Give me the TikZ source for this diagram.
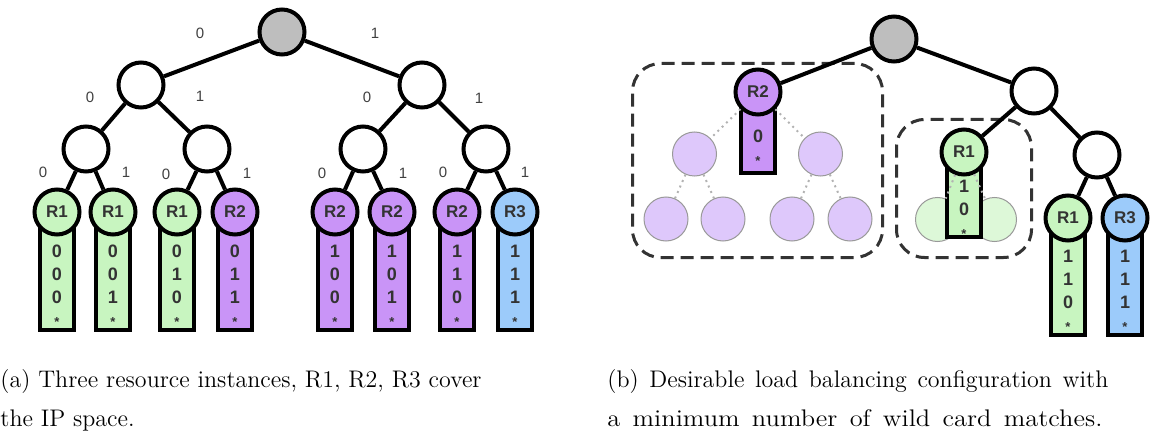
\documentclass[tikz,border=0pt]{standalone}
\usepackage{fontspec}
\newfontfamily\sansf{Liberation Sans}
\definecolor{rgreen}{HTML}{C8F5C0}
\definecolor{rpurple}{HTML}{C994F7}
\definecolor{rblue}{HTML}{9CCBFA}
\definecolor{rgrey}{HTML}{BEBEBE}
\definecolor{gpurple}{HTML}{DEC8FB}
\definecolor{ggreen}{HTML}{DDF8D8}
\tikzset{
  inner/.style={circle, draw=black, line width=2pt, minimum size=22.5pt, inner sep=0pt, fill=white},
  res/.style={inner, font=\sansf\bfseries\fontsize{8.5}{10}\selectfont, text=black!80},
  bar/.style={rectangle, draw=black, line width=2pt, minimum width=17pt, inner sep=0pt},
  bits/.style={font=\sansf\bfseries\fontsize{9}{11.5}\selectfont, align=center, inner sep=0pt, anchor=north, text=black!80},
  edge/.style={line width=2pt},
  elab/.style={font=\sansf\fontsize{7.5}{8}\selectfont, text=black!75, inner sep=0pt},
  ghost/.style={circle, draw=black!40, line width=0.5pt, minimum size=22pt, inner sep=0pt},
  ghostedge/.style={draw=black!30, dotted, line width=1pt},
  group/.style={draw=black!80, line width=1.5pt, dash pattern=on 6.5pt off 3.5pt, rounded corners=14pt, inner sep=0pt},
  captext/.style={font=\fontsize{12}{14}\selectfont, inner sep=0pt, anchor=base west},
}
\newcommand\st{{\fontsize{6.5}{11.5}\selectfont *}}
% name, x, y, fill, label, bar bottom, bits, bits top
\newcommand\leafnode[8]{%
  \node[bar, fill=#4, minimum height={(#6-#3-2)*0.5pt}, anchor=north] (#1bar) at (#2,#3) {};
  \node[res, fill=#4] (#1) at (#2,#3) {#5};
  \node[bits] (#1bits) at (#2,#8) {#7};
}
\begin{document}
\begin{tikzpicture}[x=0.5pt,y=-0.5pt]
\useasboundingbox (0,0) rectangle (1162,444);
% ---------------- (a) ----------------
\node[inner, fill=rgrey] (ar) at (282,32) {};
\node[inner] (a0) at (141,85) {};
\node[inner] (a1) at (422,85) {};
\node[inner] (a00) at (86,149) {};
\node[inner] (a01) at (207,149) {};
\node[inner] (a10) at (363,149) {};
\node[inner] (a11) at (486,149) {};
\leafnode{l0}{57}{212}{rgreen}{R1}{330}{0\\0\\0\\\st}{245}
\leafnode{l1}{113}{212}{rgreen}{R1}{330}{0\\0\\1\\\st}{245}
\leafnode{l2}{177}{212}{rgreen}{R1}{330}{0\\1\\0\\\st}{245}
\leafnode{l3}{235}{212}{rpurple}{R2}{330}{0\\1\\1\\\st}{245}
\leafnode{l4}{335}{212}{rpurple}{R2}{330}{1\\0\\0\\\st}{245}
\leafnode{l5}{392}{212}{rpurple}{R2}{330}{1\\0\\1\\\st}{245}
\leafnode{l6}{457}{212}{rpurple}{R2}{330}{1\\1\\0\\\st}{245}
\leafnode{l7}{515}{212}{rblue}{R3}{330}{1\\1\\1\\\st}{245}
\draw[edge] (ar) -- (a0);
\draw[edge] (ar) -- (a1);
\draw[edge] (a0) -- (a00);
\draw[edge] (a0) -- (a01);
\draw[edge] (a1) -- (a10);
\draw[edge] (a1) -- (a11);
\draw[edge] (a00) -- (l0);
\draw[edge] (a00) -- (l1);
\draw[edge] (a01) -- (l2);
\draw[edge] (a01) -- (l3);
\draw[edge] (a10) -- (l4);
\draw[edge] (a10) -- (l5);
\draw[edge] (a11) -- (l6);
\draw[edge] (a11) -- (l7);
\node[elab] (e1) at (200,33) {0};
\node[elab] (e2) at (375,33) {1};
\node[elab] (e3) at (90,97) {0};
\node[elab] (e4) at (200,96) {1};
\node[elab] (e5) at (367,97) {0};
\node[elab] (e6) at (479,98) {1};
\node[elab] (e7) at (43,172) {0};
\node[elab] (e8) at (126,172) {1};
\node[elab] (e9) at (166,174) {0};
\node[elab] (e10) at (247,173) {1};
\node[elab] (e11) at (322,173) {0};
\node[elab] (e12) at (403,173) {1};
\node[elab] (e13) at (443,172) {0};
\node[elab] (e14) at (525,172) {1};
% ---------------- (b) ----------------
\node[group, minimum width=125pt, minimum height=97pt] (boxR2) at (757.5,160.5) {};
\node[group, minimum width=67.5pt, minimum height=69pt] (boxR1) at (964,188.5) {};
\node[ghost, fill=gpurple] (gp0) at (694.5,154) {};
\node[ghost, fill=gpurple] (gp1) at (820.5,154) {};
\node[ghost, fill=gpurple] (gp00) at (666,219) {};
\node[ghost, fill=gpurple] (gp01) at (723,219) {};
\node[ghost, fill=gpurple] (gp10) at (792,219) {};
\node[ghost, fill=gpurple] (gp11) at (850,219) {};
\node[ghost, fill=ggreen] (gg0) at (937.5,219.5) {};
\node[ghost, fill=ggreen] (gg1) at (994.5,219.5) {};
\node[inner, fill=rgrey] (br) at (894,39) {};
\node[inner] (b1) at (1034,91) {};
\node[inner] (b11) at (1097,155) {};
\leafnode{bR2}{758}{92}{rpurple}{R2}{173}{0\\\st}{130}
\leafnode{bR1m}{964}{152}{rgreen}{R1}{237}{1\\0\\\st}{180}
\leafnode{bR1}{1068}{218}{rgreen}{R1}{335}{1\\1\\0\\\st}{250}
\leafnode{bR3}{1125}{218}{rblue}{R3}{335}{1\\1\\1\\\st}{250}
\draw[ghostedge] (bR2) -- (gp0);
\draw[ghostedge] (bR2) -- (gp1);
\draw[ghostedge] (gp0) -- (gp00);
\draw[ghostedge] (gp0) -- (gp01);
\draw[ghostedge] (gp1) -- (gp10);
\draw[ghostedge] (gp1) -- (gp11);
\draw[ghostedge] (bR1m) -- (gg0);
\draw[ghostedge] (bR1m) -- (gg1);
\draw[edge] (br) -- (bR2);
\draw[edge] (br) -- (b1);
\draw[edge] (b1) -- (bR1m);
\draw[edge] (b1) -- (b11);
\draw[edge] (b11) -- (bR1);
\draw[edge] (b11) -- (bR3);
% ---------------- captions ----------------
\node[captext] (ca1) at (0,387) {(a) Three resource instances, R1, R2, R3 cover};
\node[captext] (ca2) at (0,426) {the IP space.};
\node[captext] (cb1) at (607,387) {\makebox[250.5pt][s]{(b) Desirable load balancing configuration with}};
\node[captext] (cb2) at (607,426) {\scalebox{1.1}[1]{\makebox[225pt][s]{a minimum number of wild card matches.}}};
\end{tikzpicture}
\end{document}
